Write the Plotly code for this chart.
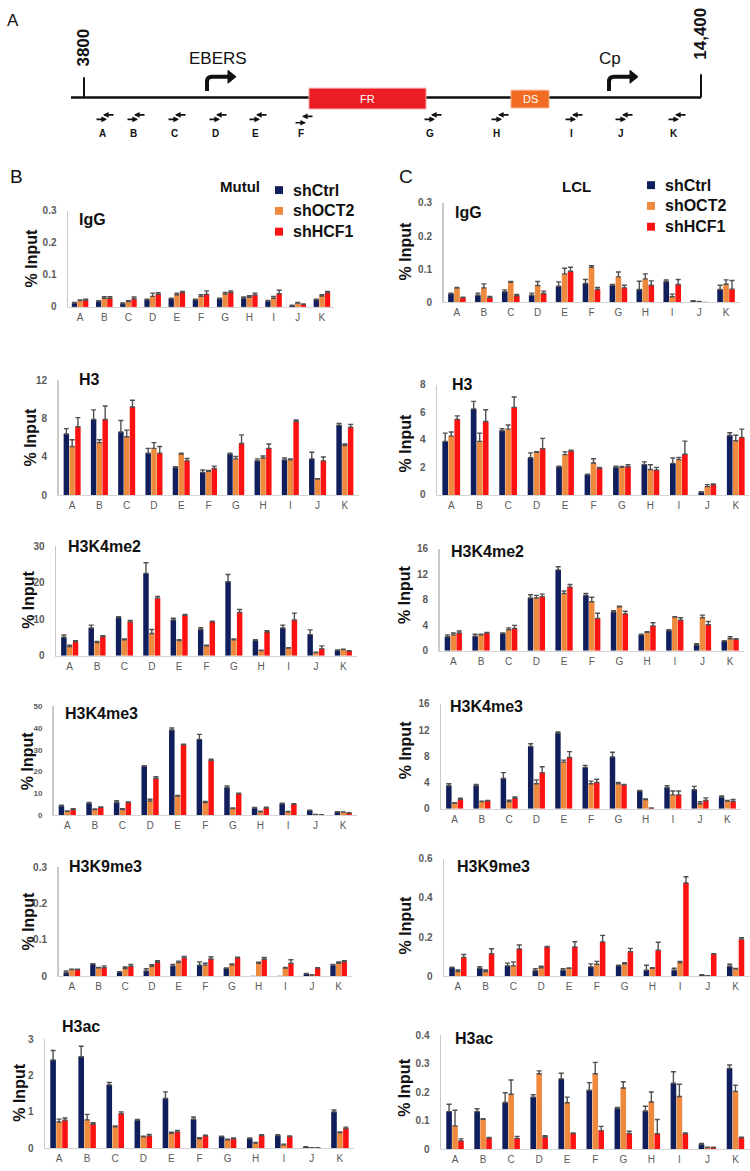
import plotly.graph_objects as go

W, H = 750, 1171
categories = list("ABCDEFGHIJK")
series_names = ["shCtrl", "shOCT2", "shHCF1"]
colors = ["#101f5c", "#ee8a3e", "#fd1212"]
FONT = "Liberation Sans, Arial, sans-serif"

# ---------------- Mutu (left column) ----------------
mutu_igg_ctrl = [0.012, 0.017, 0.010, 0.022, 0.025, 0.022, 0.025, 0.027, 0.018, 0.004, 0.022]
mutu_igg_ctrl_err = [0.002, 0.002, 0.002, 0.002, 0.002, 0.002, 0.002, 0.004, 0.002, 0.001, 0.002]
mutu_igg_oct2 = [0.020, 0.027, 0.017, 0.033, 0.038, 0.033, 0.040, 0.030, 0.027, 0.012, 0.034]
mutu_igg_oct2_err = [0.002, 0.005, 0.002, 0.010, 0.005, 0.005, 0.005, 0.005, 0.006, 0.002, 0.004]
mutu_igg_hcf1 = [0.021, 0.027, 0.025, 0.039, 0.045, 0.039, 0.045, 0.037, 0.041, 0.008, 0.045]
mutu_igg_hcf1_err = [0.003, 0.005, 0.006, 0.005, 0.003, 0.011, 0.005, 0.006, 0.011, 0.001, 0.003]

mutu_h3_ctrl = [6.4, 7.9, 6.6, 4.4, 2.9, 2.4, 4.3, 3.6, 3.7, 3.8, 7.3]
mutu_h3_ctrl_err = [0.55, 1.0, 1.2, 0.5, 0.1, 0.25, 0.1, 0.2, 0.2, 0.7, 0.2]
mutu_h3_oct2 = [5.1, 5.5, 6.1, 4.9, 4.3, 2.5, 3.8, 3.9, 3.7, 1.7, 5.2]
mutu_h3_oct2_err = [0.7, 0.3, 0.7, 0.6, 0.1, 0.1, 0.25, 0.2, 0.1, 0.05, 0.15]
mutu_h3_hcf1 = [7.15, 7.9, 9.2, 4.4, 3.6, 2.8, 5.4, 4.9, 7.7, 3.6, 7.1]
mutu_h3_hcf1_err = [0.95, 1.4, 0.7, 0.7, 0.25, 0.25, 0.9, 0.45, 0.15, 0.4, 0.3]

mutu_k4me2_ctrl = [5.1, 7.6, 10.5, 22.6, 9.8, 7.2, 20.3, 4.2, 7.6, 5.8, 1.5]
mutu_k4me2_ctrl_err = [0.6, 0.8, 0.2, 2.9, 0.5, 0.5, 2.0, 0.2, 0.8, 1.3, 0.1]
mutu_k4me2_oct2 = [2.5, 3.6, 4.4, 6.1, 4.2, 2.7, 4.4, 1.4, 2.1, 0.9, 1.7]
mutu_k4me2_oct2_err = [0.4, 0.3, 0.2, 1.1, 0.2, 0.2, 0.2, 0.1, 0.1, 0.1, 0.1]
mutu_k4me2_hcf1 = [3.8, 5.3, 9.3, 15.8, 11.1, 9.3, 11.9, 6.5, 9.8, 1.9, 1.3]
mutu_k4me2_hcf1_err = [0.3, 0.2, 0.4, 0.5, 0.2, 0.2, 0.8, 0.4, 1.9, 0.8, 0.1]

mutu_k4me3_ctrl = [4.2, 5.5, 5.8, 22.4, 39.1, 34.8, 12.6, 3.2, 5.2, 2.1, 1.4]
mutu_k4me3_ctrl_err = [0.3, 0.3, 0.8, 0.3, 0.9, 2.3, 0.8, 0.3, 0.3, 0.2, 0.2]
mutu_k4me3_oct2 = [1.7, 2.6, 2.6, 6.5, 8.8, 5.8, 3.0, 1.5, 1.5, 0.3, 1.4]
mutu_k4me3_oct2_err = [0.2, 0.2, 0.3, 0.8, 0.2, 0.5, 0.3, 0.3, 0.2, 0.05, 0.1]
mutu_k4me3_hcf1 = [2.6, 3.6, 5.8, 16.8, 32.3, 25.1, 9.8, 3.3, 5.0, 0.1, 1.0]
mutu_k4me3_hcf1_err = [0.3, 0.2, 0.3, 0.8, 0.3, 0.6, 0.3, 0.3, 0.3, 0.05, 0.1]

mutu_k9me3_ctrl = [0.010, 0.033, 0.012, 0.015, 0.029, 0.031, 0.022, 0.0, 0.0, 0.007, 0.031]
mutu_k9me3_ctrl_err = [0.005, 0.002, 0.001, 0.006, 0.004, 0.009, 0.001, 0.0, 0.0, 0.001, 0.002]
mutu_k9me3_oct2 = [0.019, 0.024, 0.022, 0.028, 0.038, 0.031, 0.032, 0.036, 0.023, 0.004, 0.036]
mutu_k9me3_oct2_err = [0.001, 0.001, 0.004, 0.004, 0.004, 0.005, 0.002, 0.003, 0.002, 0.001, 0.004]
mutu_k9me3_hcf1 = [0.019, 0.024, 0.028, 0.039, 0.051, 0.048, 0.051, 0.047, 0.036, 0.023, 0.040]
mutu_k9me3_hcf1_err = [0.001, 0.005, 0.005, 0.004, 0.004, 0.006, 0.002, 0.005, 0.010, 0.001, 0.003]

mutu_h3ac_ctrl = [2.43, 2.52, 1.74, 0.77, 1.37, 0.80, 0.32, 0.26, 0.35, 0.03, 1.00]
mutu_h3ac_ctrl_err = [0.26, 0.29, 0.07, 0.02, 0.18, 0.06, 0.01, 0.02, 0.02, 0.01, 0.05]
mutu_h3ac_oct2 = [0.72, 0.78, 0.59, 0.31, 0.41, 0.26, 0.23, 0.14, 0.09, 0.01, 0.43]
mutu_h3ac_oct2_err = [0.08, 0.15, 0.02, 0.02, 0.03, 0.03, 0.02, 0.02, 0.02, 0.0, 0.02]
mutu_h3ac_hcf1 = [0.77, 0.66, 0.95, 0.34, 0.45, 0.34, 0.26, 0.35, 0.32, 0.01, 0.54]
mutu_h3ac_hcf1_err = [0.06, 0.04, 0.05, 0.04, 0.04, 0.02, 0.02, 0.02, 0.02, 0.0, 0.04]

# ---------------- LCL (right column) ----------------
lcl_igg_ctrl = [0.026, 0.022, 0.032, 0.022, 0.049, 0.057, 0.052, 0.039, 0.063, 0.003, 0.039]
lcl_igg_ctrl_err = [0.002, 0.006, 0.006, 0.006, 0.013, 0.012, 0.002, 0.025, 0.005, 0.002, 0.013]
lcl_igg_oct2 = [0.043, 0.044, 0.061, 0.051, 0.086, 0.106, 0.077, 0.071, 0.017, 0.002, 0.055]
lcl_igg_oct2_err = [0.002, 0.012, 0.002, 0.012, 0.017, 0.005, 0.015, 0.015, 0.008, 0.001, 0.013]
lcl_igg_hcf1 = [0.014, 0.014, 0.020, 0.027, 0.094, 0.039, 0.044, 0.052, 0.054, 0.0, 0.040]
lcl_igg_hcf1_err = [0.002, 0.004, 0.004, 0.007, 0.012, 0.006, 0.008, 0.013, 0.015, 0.0, 0.026]

lcl_h3_ctrl = [3.88, 6.23, 4.65, 2.70, 2.04, 1.46, 1.99, 2.20, 2.28, 0.19, 4.31]
lcl_h3_ctrl_err = [0.6, 0.55, 0.15, 0.35, 0.05, 0.05, 0.1, 0.2, 0.4, 0.05, 0.2]
lcl_h3_oct2 = [4.26, 3.88, 4.77, 3.09, 2.92, 2.32, 2.01, 1.84, 2.56, 0.60, 3.93]
lcl_h3_oct2_err = [0.3, 0.6, 0.3, 0.05, 0.2, 0.3, 0.05, 0.35, 0.15, 0.15, 0.4]
lcl_h3_hcf1 = [5.48, 5.32, 6.35, 3.35, 3.19, 1.94, 2.04, 1.80, 2.95, 0.74, 4.17]
lcl_h3_hcf1_err = [0.25, 0.85, 0.75, 0.75, 0.05, 0.05, 0.15, 0.2, 0.95, 0.05, 0.6]

lcl_k4me2_ctrl = [2.2, 2.3, 2.7, 8.3, 12.7, 8.7, 6.1, 2.5, 3.2, 0.9, 1.5]
lcl_k4me2_ctrl_err = [0.3, 0.3, 0.1, 0.5, 0.5, 0.3, 0.2, 0.1, 0.1, 0.2, 0.1]
lcl_k4me2_oct2 = [2.5, 2.5, 3.3, 8.3, 9.0, 7.7, 6.9, 2.9, 5.3, 5.2, 1.9]
lcl_k4me2_oct2_err = [0.3, 0.1, 0.3, 0.4, 0.4, 0.7, 0.1, 0.1, 0.05, 0.4, 0.3]
lcl_k4me2_hcf1 = [2.8, 2.8, 3.5, 8.5, 10.0, 5.1, 5.8, 3.9, 4.8, 4.1, 1.8]
lcl_k4me2_hcf1_err = [0.3, 0.1, 0.5, 0.4, 0.4, 0.8, 0.4, 0.5, 0.4, 0.5, 0.1]

lcl_k4me3_ctrl = [3.5, 3.5, 4.6, 9.5, 11.5, 6.3, 7.9, 2.7, 3.2, 2.9, 1.75]
lcl_k4me3_ctrl_err = [0.3, 0.2, 0.9, 0.4, 0.2, 0.3, 0.7, 0.1, 0.3, 0.5, 0.2]
lcl_k4me3_oct2 = [0.85, 1.1, 1.1, 3.8, 7.1, 3.8, 3.8, 1.4, 2.1, 0.75, 1.15]
lcl_k4me3_oct2_err = [0.05, 0.05, 0.2, 0.6, 0.3, 0.4, 0.2, 0.1, 0.6, 0.3, 0.1]
lcl_k4me3_hcf1 = [1.4, 1.2, 1.6, 5.5, 7.8, 4.0, 3.6, 0.1, 2.1, 1.25, 1.1]
lcl_k4me3_hcf1_err = [0.2, 0.05, 0.2, 0.9, 0.9, 0.5, 0.1, 0.02, 0.6, 0.4, 0.3]

lcl_k9me3_ctrl = [0.044, 0.042, 0.054, 0.029, 0.032, 0.049, 0.055, 0.032, 0.032, 0.007, 0.052]
lcl_k9me3_ctrl_err = [0.003, 0.008, 0.014, 0.010, 0.008, 0.015, 0.002, 0.025, 0.010, 0.002, 0.010]
lcl_k9me3_oct2 = [0.025, 0.025, 0.054, 0.044, 0.042, 0.062, 0.064, 0.042, 0.069, 0.003, 0.039]
lcl_k9me3_oct2_err = [0.008, 0.008, 0.020, 0.008, 0.001, 0.015, 0.006, 0.003, 0.007, 0.001, 0.002]
lcl_k9me3_hcf1 = [0.097, 0.116, 0.140, 0.150, 0.150, 0.176, 0.126, 0.134, 0.476, 0.114, 0.190]
lcl_k9me3_hcf1_err = [0.015, 0.025, 0.020, 0.003, 0.027, 0.033, 0.017, 0.040, 0.032, 0.002, 0.008]

lcl_h3ac_ctrl = [0.132, 0.132, 0.164, 0.183, 0.247, 0.207, 0.143, 0.134, 0.232, 0.016, 0.284]
lcl_h3ac_ctrl_err = [0.026, 0.010, 0.034, 0.008, 0.020, 0.027, 0.004, 0.017, 0.040, 0.004, 0.012]
lcl_h3ac_oct2 = [0.082, 0.105, 0.193, 0.265, 0.163, 0.265, 0.215, 0.166, 0.185, 0.006, 0.203]
lcl_h3ac_oct2_err = [0.055, 0.002, 0.050, 0.010, 0.020, 0.040, 0.022, 0.035, 0.043, 0.001, 0.022]
lcl_h3ac_hcf1 = [0.029, 0.038, 0.038, 0.042, 0.055, 0.065, 0.055, 0.054, 0.054, 0.006, 0.040]
lcl_h3ac_hcf1_err = [0.007, 0.003, 0.007, 0.005, 0.002, 0.015, 0.008, 0.050, 0.003, 0.001, 0.002]

# diagram labels
primer_labels = list("ABCDEFGHIJK")
panel_titles = ["IgG", "H3", "H3K4me2", "H3K4me3", "H3K9me3", "H3ac"]


def fx(x):
    return x / W


def fy(y):
    return 1 - y / H


# panel layout (pixel geometry), data referenced by name
panels = [
    dict(series=[(mutu_igg_ctrl, mutu_igg_ctrl_err), (mutu_igg_oct2, mutu_igg_oct2_err), (mutu_igg_hcf1, mutu_igg_hcf1_err)],
         x0=68, x1=334, ytop=207, ybot=304, ymax=0.3, tv=[0, 0.1, 0.2, 0.3], title=panel_titles[0], tx=77, ty=216, lx=31, ly=255, bw=0.22, tfs=10),
    dict(series=[(mutu_h3_ctrl, mutu_h3_ctrl_err), (mutu_h3_oct2, mutu_h3_oct2_err), (mutu_h3_hcf1, mutu_h3_hcf1_err)],
         x0=58.5, x1=358.5, ytop=378, ybot=494.5, ymax=12, tv=[0, 4, 8, 12], title=panel_titles[1], tx=77, ty=377, lx=31, ly=436, bw=0.2, tfs=10),
    dict(series=[(mutu_k4me2_ctrl, mutu_k4me2_ctrl_err), (mutu_k4me2_oct2, mutu_k4me2_oct2_err), (mutu_k4me2_hcf1, mutu_k4me2_hcf1_err)],
         x0=56, x1=357, ytop=546, ybot=656.5, ymax=30, tv=[0, 10, 20, 30], title=panel_titles[2], tx=66, ty=546, lx=29, ly=600, bw=0.2, tfs=10),
    dict(series=[(mutu_k4me3_ctrl, mutu_k4me3_ctrl_err), (mutu_k4me3_oct2, mutu_k4me3_oct2_err), (mutu_k4me3_hcf1, mutu_k4me3_hcf1_err)],
         x0=53.5, x1=357, ytop=707.5, ybot=817.5, ymax=50, tv=[0, 10, 20, 30, 40, 50], title=panel_titles[3], tx=63, ty=715, lx=27, ly=763, bw=0.2, tfs=8),
    dict(series=[(mutu_k9me3_ctrl, mutu_k9me3_ctrl_err), (mutu_k9me3_oct2, mutu_k9me3_oct2_err), (mutu_k9me3_hcf1, mutu_k9me3_hcf1_err)],
         x0=58.5, x1=352, ytop=870, ybot=980.5, ymax=0.3, tv=[0, 0.1, 0.2, 0.3], title=panel_titles[4], tx=67, ty=869, lx=29, ly=925, bw=0.2, tfs=10),
    dict(series=[(mutu_h3ac_ctrl, mutu_h3ac_ctrl_err), (mutu_h3ac_oct2, mutu_h3ac_oct2_err), (mutu_h3ac_hcf1, mutu_h3ac_hcf1_err)],
         x0=45, x1=354, ytop=1044, ybot=1154, ymax=3, tv=[0, 1, 2, 3], title=panel_titles[5], tx=60, ty=1031, lx=20, ly=1098, bw=0.2, tfs=10),
    dict(series=[(lcl_igg_ctrl, lcl_igg_ctrl_err), (lcl_igg_oct2, lcl_igg_oct2_err), (lcl_igg_hcf1, lcl_igg_hcf1_err)],
         x0=443.5, x1=739.5, ytop=199, ybot=299.5, ymax=0.3, tv=[0, 0.1, 0.2, 0.3], title=panel_titles[0], tx=453, ty=209, lx=405, ly=248, bw=0.21, tfs=10),
    dict(series=[(lcl_h3_ctrl, lcl_h3_ctrl_err), (lcl_h3_oct2, lcl_h3_oct2_err), (lcl_h3_hcf1, lcl_h3_hcf1_err)],
         x0=437, x1=750, ytop=382.5, ybot=494, ymax=8, tv=[0, 2, 4, 6, 8], title=panel_titles[1], tx=450, ty=382, lx=405, ly=442, bw=0.2, tfs=10),
    dict(series=[(lcl_k4me2_ctrl, lcl_k4me2_ctrl_err), (lcl_k4me2_oct2, lcl_k4me2_oct2_err), (lcl_k4me2_hcf1, lcl_k4me2_hcf1_err)],
         x0=439.5, x1=744, ytop=548.5, ybot=651.5, ymax=16, tv=[0, 4, 8, 12, 16], title=panel_titles[2], tx=449, ty=551, lx=405, ly=595, bw=0.2, tfs=10),
    dict(series=[(lcl_k4me3_ctrl, lcl_k4me3_ctrl_err), (lcl_k4me3_oct2, lcl_k4me3_oct2_err), (lcl_k4me3_hcf1, lcl_k4me3_hcf1_err)],
         x0=441, x1=741, ytop=705, ybot=811, ymax=16, tv=[0, 4, 8, 12, 16], title=panel_titles[3], tx=448, ty=708, lx=405, ly=752, bw=0.2, tfs=10),
    dict(series=[(lcl_k9me3_ctrl, lcl_k9me3_ctrl_err), (lcl_k9me3_oct2, lcl_k9me3_oct2_err), (lcl_k9me3_hcf1, lcl_k9me3_hcf1_err)],
         x0=444, x1=749.5, ytop=861.5, ybot=980.5, ymax=0.6, tv=[0, 0.2, 0.4, 0.6], title=panel_titles[4], tx=455, ty=869, lx=405, ly=929, bw=0.2, tfs=10),
    dict(series=[(lcl_h3ac_ctrl, lcl_h3ac_ctrl_err), (lcl_h3ac_oct2, lcl_h3ac_oct2_err), (lcl_h3ac_hcf1, lcl_h3ac_hcf1_err)],
         x0=441, x1=749.5, ytop=1040, ybot=1155, ymax=0.4, tv=[0, 0.1, 0.2, 0.3, 0.4], title=panel_titles[5], tx=453, ty=1043, lx=405, ly=1093, bw=0.2, tfs=10),
]

fig = go.Figure()
layout_axes = {}
annotations = []
shapes = []

for i, p in enumerate(panels, start=1):
    xa = "x" if i == 1 else f"x{i}"
    ya = "y" if i == 1 else f"y{i}"
    bw = p["bw"]
    g = 0.012
    offsets = [-1.5 * bw - g, -0.5 * bw, 0.5 * bw + g]
    for (vals, errs), name, col, off in zip(p["series"], series_names, colors, offsets):
        fig.add_trace(go.Bar(
            x=categories, y=vals, name=name, width=bw, offset=off,
            marker=dict(color=col, line=dict(width=0)),
            error_y=dict(type="data", symmetric=False, array=errs, arrayminus=[0] * len(errs),
                         color="#505050", thickness=1.4, width=2.5),
            showlegend=False, xaxis=xa, yaxis=ya, hoverinfo="skip"))
    layout_axes["xaxis" if i == 1 else f"xaxis{i}"] = dict(
        domain=[fx(p["x0"]), fx(p["x1"])], anchor=ya, type="category",
        categoryorder="array", categoryarray=categories, range=[-0.5, 10.5],
        showline=True, linecolor="#d4d4d4", linewidth=1, ticks="", showgrid=False,
        zeroline=False, tickfont=dict(family=FONT, size=10, color="#5a5a5a"),
        ticklabelstandoff=1, fixedrange=True)
    layout_axes["yaxis" if i == 1 else f"yaxis{i}"] = dict(
        domain=[fy(p["ybot"]), fy(p["ytop"])], anchor=xa, range=[0, p["ymax"]],
        tickmode="array", tickvals=p["tv"], showline=True, linecolor="#c9c9c9",
        linewidth=1.5, ticks="", showgrid=False, zeroline=False,
        tickfont=dict(family=FONT, size=p["tfs"], color="#5a5a5a", weight="bold"),
        ticklabelstandoff=8, fixedrange=True)
    annotations.append(dict(text=f"<b>{p['title']}</b>", x=fx(p["tx"]), y=fy(p["ty"]), xref="paper", yref="paper",
                            xanchor="left", yanchor="middle", showarrow=False,
                            font=dict(family=FONT, size=16, color="#111")))
    annotations.append(dict(text="<b>% Input</b>", x=fx(p["lx"]), y=fy(p["ly"]), xref="paper", yref="paper",
                            xanchor="center", yanchor="middle", showarrow=False, textangle=-90,
                            font=dict(family=FONT, size=16, color="#111")))


def text(t, x, y, size, bold=False, color="#111", xanchor="center", angle=0):
    annotations.append(dict(text=f"<b>{t}</b>" if bold else t, x=fx(x), y=fy(y), xref="paper", yref="paper",
                            xanchor=xanchor, yanchor="middle", showarrow=False, textangle=angle,
                            font=dict(family=FONT, size=size, color=color)))


# ---------- column headers and legends ----------
text("B", 8, 172, 19, xanchor="left")
text("C", 397, 172, 19, xanchor="left")
text("Mutul", 240, 182, 15, bold=True)
text("LCL", 576, 182, 15, bold=True)

for (lx0, ly0) in [(275, 186), (647, 181)]:
    for k, (name, col) in enumerate(zip(series_names, colors)):
        yy = ly0 + 21 * k
        shapes.append(dict(type="rect", xref="paper", yref="paper", x0=fx(lx0), x1=fx(lx0 + 8),
                           y0=fy(yy + 4), y1=fy(yy - 4), fillcolor=col, line=dict(width=0)))
        text(name, lx0 + 16, yy, 16, bold=True, xanchor="left")

# ---------- panel A: genome diagram ----------
text("A", 5, 15, 17, xanchor="left")
line_y = 92.5
shapes.append(dict(type="line", xref="paper", yref="paper", x0=fx(71), x1=fx(701), y0=fy(line_y), y1=fy(line_y),
                   line=dict(color="#111", width=2.5)))
for tx_, ttop in [(84, 72), (701, 69)]:
    shapes.append(dict(type="line", xref="paper", yref="paper", x0=fx(tx_), x1=fx(tx_), y0=fy(line_y), y1=fy(ttop),
                       line=dict(color="#111", width=2)))
text("3800", 84, 42, 17, bold=True, angle=-90)
text("14,400", 701, 28, 17, bold=True, angle=-90)

shapes.append(dict(type="rect", xref="paper", yref="paper", x0=fx(309), x1=fx(426), y0=fy(104), y1=fy(83),
                   fillcolor="#ec1c24", line=dict(color="#f4a0a0", width=1)))
text("FR", 367.5, 93.5, 11, color="white")
shapes.append(dict(type="rect", xref="paper", yref="paper", x0=fx(511), x1=fx(549), y0=fy(103), y1=fy(85),
                   fillcolor="#f26b22", line=dict(color="#f7b089", width=1)))
text("DS", 530, 94, 11, color="white")


def P(x, y):
    return f"{fx(x):.5f},{fy(y):.5f}"


for sx, ex, label, lxx in [(207, 229, "EBERS", 218), (609, 631, "Cp", 610)]:
    ty_ = 71.5
    shapes.append(dict(type="path", xref="paper", yref="paper",
                       path=f"M {P(sx, 86)} L {P(sx, ty_ + 5)} Q {P(sx, ty_)} {P(sx + 5, ty_)} L {P(ex, ty_)}",
                       line=dict(color="#111", width=4)))
    shapes.append(dict(type="path", xref="paper", yref="paper",
                       path=f"M {P(ex - 1, ty_ - 6.5)} L {P(ex + 7, ty_)} L {P(ex - 1, ty_ + 6.5)} Z",
                       fillcolor="#111", line=dict(color="#111", width=1)))
    text(label, lxx, 53, 17)

primer_x = [105, 136, 177, 218, 258, 304, 433, 500, 574, 624, 677]
for k, (cx, lab) in enumerate(zip(primer_x, primer_labels)):
    yb = 118 if lab == "F" else 114.5
    yt = 111.5 if lab == "F" else 110
    annotations.append(dict(x=fx(cx + 2), y=fy(yb), xref="paper", yref="paper", ax=-12, ay=0, text="",
                            showarrow=True, arrowhead=2, arrowsize=0.7, arrowwidth=1.6, arrowcolor="#111"))
    annotations.append(dict(x=fx(cx - 2), y=fy(yt), xref="paper", yref="paper", ax=12, ay=0, text="",
                            showarrow=True, arrowhead=2, arrowsize=0.7, arrowwidth=1.6, arrowcolor="#111"))
    text(lab, cx - 3, 129, 10, bold=True)

fig.update_layout(
    width=W, height=H, margin=dict(l=0, r=0, t=0, b=0),
    paper_bgcolor="white", plot_bgcolor="rgba(0,0,0,0)",
    showlegend=False, annotations=annotations, shapes=shapes,
    font=dict(family=FONT), **layout_axes)

fig.write_html("out.html", config={"displayModeBar": False, "staticPlot": True},
               post_script="document.body.style.margin='0';document.body.style.padding='0';"
                           "document.documentElement.style.overflow='hidden';")
